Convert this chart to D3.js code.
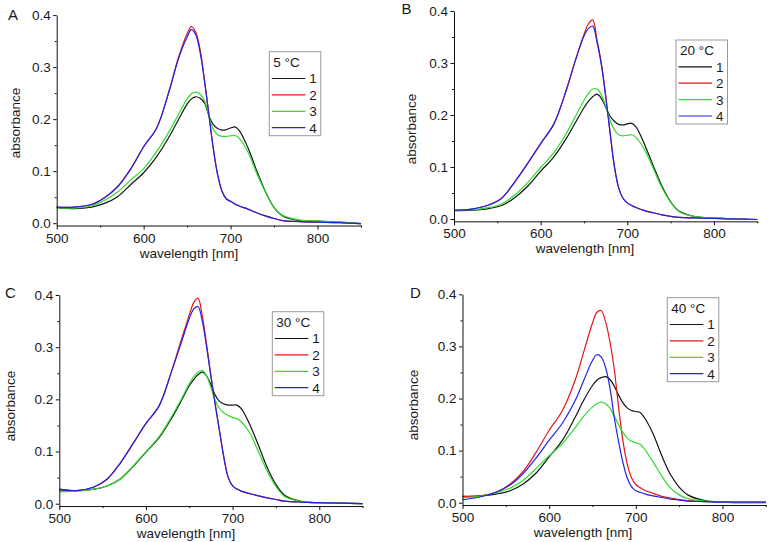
<!DOCTYPE html>
<html>
<head>
<meta charset="utf-8">
<script src="https://d3js.org/d3.v7.min.js"></script>
<style>
  body { margin: 0; background: #fff; }
  text { font-family: Arial, "Liberation Sans", sans-serif; fill: #1a1a1a; }
</style>
</head>
<body>
<div id="chart"></div>
<script>
// wavelength grid [nm], shared by all spectra
var wavelength = [500,520,540,555,570,585,600,615,630,640,650,655,660,665,670,675,680,685,690,695,700,705,710,720,730,740,750,760,780,800,825,850];

// A - 5 °C
var absA1 = [.030,.028,.031,.038,.051,.074,.097,.128,.168,.199,.229,.239,.243,.240,.231,.207,.190,.182,.179,.180,.183,.185,.178,.145,.101,.061,.030,.014,.005,.004,.002,-.001];
var absA2 = [.031,.031,.036,.049,.070,.104,.147,.183,.258,.318,.364,.378,.367,.333,.275,.210,.145,.094,.062,.047,.042,.037,.033,.027,.020,.014,.009,.005,.003,.002,.001,-.001];
var absA3 = [.030,.029,.033,.044,.060,.083,.105,.138,.178,.209,.239,.249,.252,.248,.236,.207,.181,.170,.167,.167,.168,.169,.163,.137,.096,.060,.030,.015,.006,.004,.002,-.001];
var absA4 = [.031,.031,.036,.049,.070,.104,.147,.183,.258,.316,.358,.372,.362,.328,.273,.209,.145,.094,.062,.047,.042,.037,.033,.027,.020,.014,.009,.005,.003,.002,.001,-.001];

// B - 20 °C
var absB1 = [.016,.017,.020,.026,.041,.063,.092,.119,.156,.185,.214,.226,.235,.240,.232,.215,.198,.188,.182,.181,.183,.184,.177,.143,.102,.063,.033,.015,.004,.002,.000,-.001];
var absB2 = [.017,.019,.027,.040,.071,.107,.145,.182,.250,.305,.355,.375,.383,.345,.300,.238,.168,.102,.060,.040,.031,.026,.022,.016,.012,.008,.005,.003,.002,.001,.000,-.001];
var absB3 = [.017,.018,.022,.029,.046,.070,.099,.127,.166,.197,.228,.241,.250,.250,.239,.217,.190,.172,.162,.160,.161,.162,.157,.133,.097,.060,.032,.014,.004,.002,.000,-.001];
var absB4 = [.017,.019,.027,.040,.071,.107,.145,.182,.250,.304,.352,.366,.371,.340,.297,.236,.167,.102,.060,.040,.031,.026,.022,.016,.012,.008,.005,.003,.002,.001,.000,-.001];

// C - 30 °C
var absC1 = [.028,.025,.028,.034,.047,.071,.099,.126,.165,.195,.226,.238,.247,.252,.245,.228,.208,.196,.191,.189,.189,.189,.182,.151,.111,.069,.037,.016,.004,.002,.001,.000];
var absC2 = [.027,.025,.032,.047,.077,.115,.154,.187,.256,.310,.362,.385,.394,.360,.305,.245,.190,.138,.088,.050,.034,.028,.024,.019,.015,.011,.008,.005,.003,.002,.001,.000];
var absC3 = [.023,.024,.028,.034,.047,.072,.100,.128,.168,.198,.230,.243,.252,.255,.245,.222,.198,.182,.174,.169,.165,.163,.157,.135,.099,.062,.033,.014,.004,.002,.001,.000];
var absC4 = [.027,.025,.032,.047,.077,.115,.154,.187,.256,.305,.355,.373,.378,.350,.300,.243,.189,.138,.088,.050,.034,.028,.024,.019,.015,.011,.008,.005,.003,.002,.001,.000];

// D - 40 °C
var absD1 = [.012,.013,.017,.023,.036,.057,.088,.119,.164,.197,.225,.235,.240,.242,.237,.224,.207,.192,.182,.177,.175,.173,.163,.132,.090,.054,.030,.015,.004,.001,.000,.000];
var absD2 = [.012,.013,.021,.036,.060,.097,.139,.176,.235,.290,.345,.365,.369,.348,.310,.258,.185,.120,.075,.048,.035,.029,.024,.018,.012,.009,.006,.004,.002,.001,.001,.001];
var absD3 = [.010,.012,.020,.028,.043,.066,.090,.113,.144,.166,.184,.190,.193,.190,.182,.167,.150,.135,.124,.118,.115,.112,.103,.078,.051,.028,.015,.008,.003,.001,.000,.001];
var absD4 = [.006,.011,.021,.034,.056,.086,.120,.152,.196,.235,.273,.284,.280,.260,.222,.165,.118,.078,.048,.031,.023,.020,.017,.013,.010,.007,.005,.003,.002,.001,.001,.001];

var letters = ["A", "B", "C", "D"];
var temperatures = ["5 °C", "20 °C", "30 °C", "40 °C"];
var seriesNames = ["1", "2", "3", "4"];
var xTicks = [500, 600, 700, 800];
var xMinor = [550, 650, 750, 850];
var yTicks = [0, 0.1, 0.2, 0.3, 0.4];
var yMinor = [0.05, 0.15, 0.25, 0.35];

var colors = ["#141414", "#e3161c", "#2edc2e", "#2222e6"];

// where each panel sits in the 770x542 picture
var panels = [
    {series: [absA1, absA2, absA3, absA4], left: 56.7, right: 361, top: 15.1, zero: 223.2,
     legend: [269.3, 51.7], letter: [8, 20], xTitleX: 189, yTitle: [15, 123]},
    {series: [absB1, absB2, absB3, absB4], left: 454, right: 757.3, top: 11, zero: 219,
     legend: [676, 40], letter: [401.5, 13.5], xTitleX: 585, yTitle: [411.5, 129]},
    {series: [absC1, absC2, absC3, absC4], left: 59.3, right: 362.6, top: 295, zero: 503.7,
     legend: [272.3, 311.7], letter: [5, 297.5], xTitleX: 186, yTitle: [10, 406]},
    {series: [absD1, absD2, absD3, absD4], left: 462.5, right: 765.8, top: 294.3, zero: 502.7,
     legend: [667.3, 297.7], letter: [410, 297.5], xTitleX: 583, yTitle: [413, 405]}
];

var svg = d3.select("#chart").append("svg").attr("width", 770).attr("height", 542);

panels.forEach(function(p, i) {
    var yMin = -0.0045;
    var x = d3.scaleLinear().domain([500, 850]).range([p.left, p.right]);
    var y = d3.scaleLinear().domain([yMin, 0.4]).range([p.zero - yMin * (p.zero - p.top) / 0.4, p.top]);
    var axisY = y(yMin);
    var g = svg.append("g");

    // curves
    var line = d3.line()
        .x(function(d, k) { return x(wavelength[k]); })
        .y(function(d) { return y(d); })
        .curve(d3.curveCatmullRom.alpha(0.5));
    p.series.forEach(function(s, k) {
        g.append("path").datum(s).attr("d", line)
            .attr("fill", "none").attr("stroke", colors[k]).attr("stroke-width", 1.2);
    });

    // axes
    g.append("g").attr("transform", "translate(0," + axisY + ")")
        .call(d3.axisBottom(x).tickValues(xTicks).tickSize(4).tickSizeOuter(0).tickPadding(3.5).tickFormat(d3.format("d")));
    g.append("g").attr("transform", "translate(0," + axisY + ")")
        .call(d3.axisBottom(x).tickValues(xMinor).tickSize(2).tickSizeOuter(0).tickFormat(""))
        .select(".domain").remove();
    g.append("g").attr("transform", "translate(" + x(500) + ",0)")
        .call(d3.axisLeft(y).tickValues(yTicks).tickSize(3.5).tickSizeOuter(0).tickPadding(2.5).tickFormat(d3.format(".1f")));
    g.append("g").attr("transform", "translate(" + x(500) + ",0)")
        .call(d3.axisLeft(y).tickValues(yMinor).tickSize(2).tickSizeOuter(0).tickFormat(""))
        .select(".domain").remove();
    g.selectAll(".tick text").style("font-size", "13.5px").style("font-family", "Arial, 'Liberation Sans', sans-serif").attr("fill", "#1a1a1a");
    g.selectAll(".domain, .tick line").attr("stroke", "#111");

    // titles
    g.append("text").attr("x", p.xTitleX).attr("y", axisY + 32)
        .attr("text-anchor", "middle").style("font-size", "13.5px").text("wavelength [nm]");
    g.append("text").attr("transform", "translate(" + p.yTitle[0] + "," + p.yTitle[1] + ") rotate(-90)")
        .attr("text-anchor", "middle").attr("dy", "0.35em").style("font-size", "13.5px").text("absorbance");
    g.append("text").attr("x", p.letter[0]).attr("y", p.letter[1])
        .style("font-size", "15px").text(letters[i]);

    // legend
    var lg = g.append("g").attr("transform", "translate(" + p.legend[0] + "," + p.legend[1] + ")");
    lg.append("rect").attr("width", 51.5).attr("height", 84)
        .attr("fill", "#fff").attr("stroke", "#999").attr("stroke-width", 1);
    lg.append("text").attr("x", 4).attr("y", 15).style("font-size", "13.5px").text(temperatures[i]);
    seriesNames.forEach(function(name, k) {
        var ly = 26.8 + k * 16.4;
        lg.append("line").attr("x1", 2.5).attr("x2", 36).attr("y1", ly).attr("y2", ly)
            .attr("stroke", colors[k]).attr("stroke-width", 1.2);
        lg.append("text").attr("x", 40).attr("y", ly + 5).style("font-size", "13.5px").text(name);
    });
});
</script>
</body>
</html>
